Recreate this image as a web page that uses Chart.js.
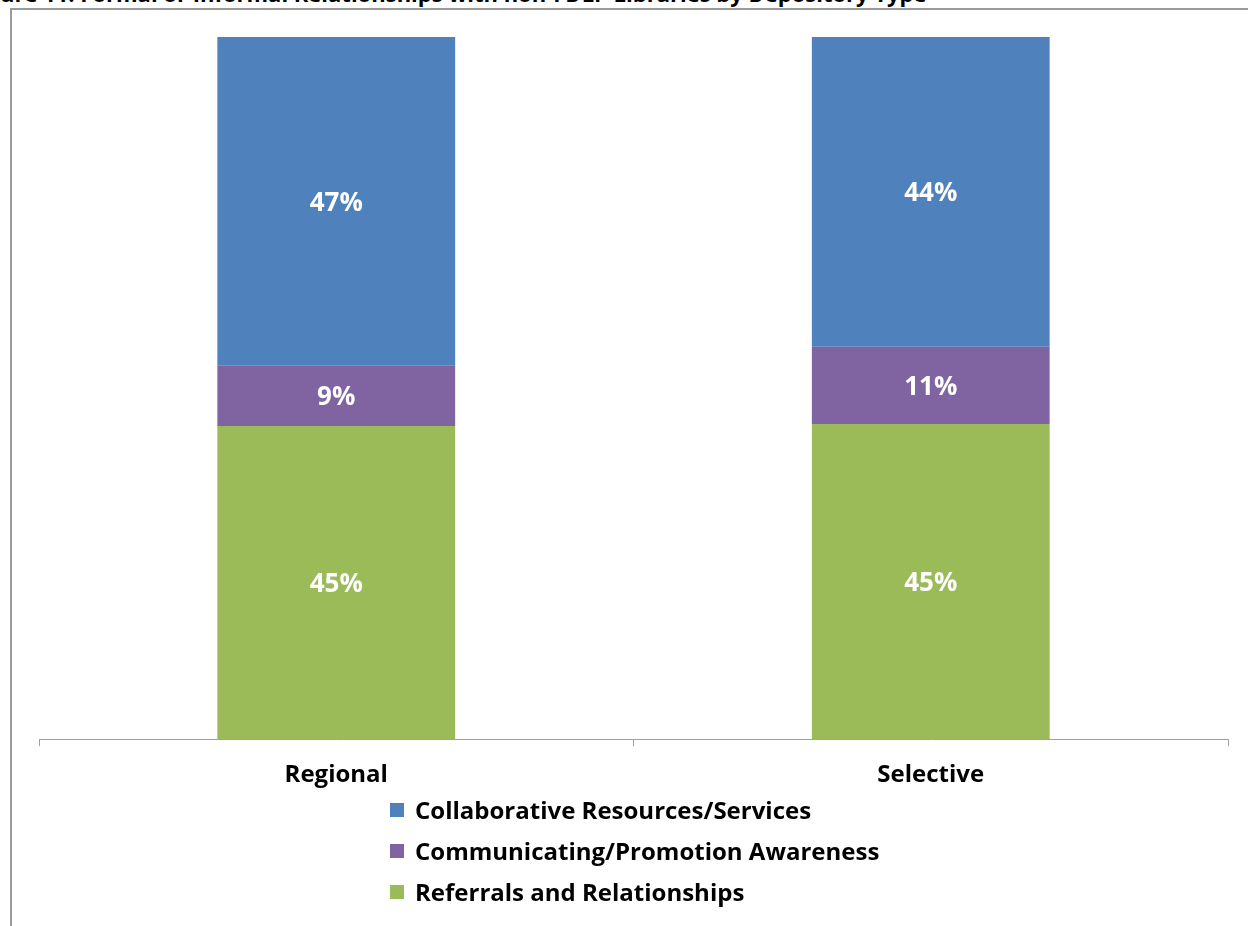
<!DOCTYPE html>
<html>
<head>
<meta charset="utf-8">
<script src="https://cdn.jsdelivr.net/npm/chart.js@4/dist/chart.umd.min.js"></script>
<style>
  html, body { margin: 0; padding: 0; background: #fff; overflow: hidden; }
  body { width: 1248px; height: 926px; position: relative; font-family: 'Open Sans', Lato, sans-serif; }
  #title { position: absolute; left: 0; top: -18px; font-size: 22px; line-height: 22px; font-weight: bold; white-space: nowrap; color: #000; }
  #frame { position: absolute; left: 10px; top: 8px; width: 1300px; height: 1000px; border: 2px solid #9a9a9a; box-sizing: border-box; }
  #wrap { position: absolute; left: 0; top: 0; width: 1248px; height: 805px; }
  #legend { position: absolute; left: 390px; top: 789px; font-size: 24px; font-weight: bold; color: #000; }
  #legend div { height: 41px; line-height: 41px; display: flex; align-items: center; }
  #legend span.box { display: inline-block; width: 14px; height: 14px; margin-right: 11px; }
</style>
</head>
<body>
<div id="title">ure 11: Formal or Informal Relationships with non-FDLP Libraries by Depository Type</div>
<div id="frame"></div>
<div id="wrap"><canvas id="chart"></canvas></div>
<div id="legend"></div>
<script>
// Formal or informal relationships with non-FDLP libraries, % of responses
const CATEGORIES = ['Regional', 'Selective']
const SERIES = ['Referrals and Relationships', 'Communicating/Promotion Awareness', 'Collaborative Resources/Services']
const REFERRALS = [44.6, 44.9]
const COMMUNICATING = [8.6, 11.0]
const COLLABORATIVE = [46.8, 44.1]
const SERIES_COLORS = ['#9BBB59', '#8064A2', '#4F81BD']

const FONT = "'Open Sans', Lato, sans-serif"

// white % labels centred in each segment
const segmentLabels = {
  id: 'segmentLabels',
  afterDatasetsDraw(chart) {
    const ctx = chart.ctx
    ctx.save()
    ctx.font = 'bold 26px ' + FONT
    ctx.fillStyle = '#fff'
    ctx.textAlign = 'center'
    ctx.textBaseline = 'middle'
    chart.data.datasets.forEach((ds, i) => {
      chart.getDatasetMeta(i).data.forEach((bar, j) => {
        const y = (bar.y + bar.base) / 2 + 2
        ctx.fillText(Math.round(ds.data[j]) + '%', bar.x, y)
      })
    })
    ctx.restore()
  },
}

const data = [REFERRALS, COMMUNICATING, COLLABORATIVE]

const chart = new Chart(document.getElementById('chart'), {
  type: 'bar',
  data: {
    labels: CATEGORIES,
    datasets: SERIES.map((name, i) => ({
      label: name,
      data: data[i],
      backgroundColor: SERIES_COLORS[i],
      borderWidth: 0,
      barPercentage: 0.4,
      categoryPercentage: 1,
    })),
  },
  options: {
    responsive: true,
    maintainAspectRatio: false,
    animation: false,
    layout: { padding: { left: 39, right: 20, top: 37, bottom: 0 } },
    plugins: { legend: { display: false }, tooltip: { enabled: false } },
    scales: {
      x: {
        stacked: true,
        grid: { offset: true, drawOnChartArea: false, drawTicks: true, tickLength: 7, color: '#a0a0a0' },
        border: { color: '#a0a0a0', width: 1 },
        ticks: { color: '#000', padding: 15, font: { family: FONT, size: 24, weight: 'bold' } },
      },
      y: { stacked: true, display: false, min: 0, max: 100 },
    },
  },
  plugins: [segmentLabels],
})

// vertical legend, top series first
const legend = document.getElementById('legend')
chart.data.datasets.slice().reverse().forEach(ds => {
  const row = document.createElement('div')
  row.innerHTML = '<span class="box" style="background:' + ds.backgroundColor + '"></span>' + ds.label
  legend.appendChild(row)
})
</script>
</body>
</html>
